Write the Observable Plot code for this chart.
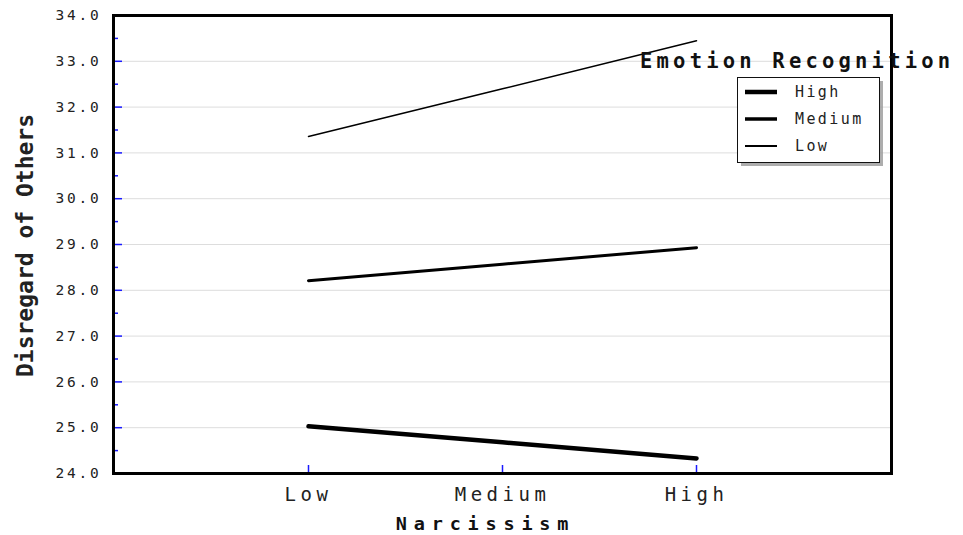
<!DOCTYPE html>
<html><head><meta charset="utf-8">
<script src="https://cdn.jsdelivr.net/npm/d3@7"></script>
<script src="https://cdn.jsdelivr.net/npm/@observablehq/plot@0.6"></script>
<style>
body{margin:0;background:#fff}
#chart{position:relative;width:963px;height:535px}
g[aria-label="y-axis tick label"] text{letter-spacing:2.8px}
g[aria-label="x-axis tick label"] text{letter-spacing:4.5px}
</style>
</head><body><div id="chart"></div>
<script>
// Categories
const narcissism = ["Low", "Medium", "High"];
const emotionLevels = ["High", "Medium", "Low"];
// Series values (Disregard of Others)
const highER = [25.03, 24.68, 24.33];
const mediumER = [28.21, 28.57, 28.93];
const lowER = [31.36, 32.40, 33.45];
// Tick values
const majorTicks = [24, 25, 26, 27, 28, 29, 30, 31, 32, 33, 34];
const minorTicks = [24.5, 25.5, 26.5, 27.5, 28.5, 29.5, 30.5, 31.5, 32.5, 33.5];
const gridTicks = [25, 26, 27, 28, 29, 30, 31, 32, 33];
const xTitle = "Narcissism";
const yTitle = "Disregard of Others";
const legendTitle = "Emotion Recognition";

const seriesValues = {High: highER, Medium: mediumER, Low: lowER};
const widthOf = {High: 4.5, Medium: 3, Low: 1.5};
const legendWidthOf = {High: 4.5, Medium: 3.5, Low: 2};
const rows = emotionLevels.flatMap(er => narcissism.map((n, i) => ({er, narc: n, value: seriesValues[er][i]})));

const font = "DejaVu Sans Mono";
const plot = Plot.plot({
  width: 963, height: 535,
  marginLeft: 113, marginRight: 72, marginTop: 15, marginBottom: 62,
  style: {fontFamily: font, background: "white", color: "#222"},
  x: {type: "point", domain: narcissism, padding: 1},
  y: {domain: [24, 34]},
  marks: [
    Plot.ruleY(gridTicks, {stroke: "#dddddd", strokeWidth: 1}),
    ...emotionLevels.map(er => Plot.line(rows.filter(d => d.er === er), {x: "narc", y: "value", stroke: "black", strokeWidth: widthOf[er]})),
    Plot.axisY({ticks: minorTicks, tickSize: -5, stroke: "#1a1aff", strokeWidth: 1.5, tickFormat: () => "", label: null}),
    Plot.axisY({ticks: majorTicks, tickSize: -9, stroke: "#1a1aff", strokeWidth: 1.5, tickFormat: () => "", label: null}),
    Plot.axisY({ticks: majorTicks, tickSize: 0, tickPadding: 12, tickFormat: d => d.toFixed(1), fontSize: 14.5, fill: "#222", label: null}),
    Plot.axisX({tickSize: -8, stroke: "#1a1aff", strokeWidth: 1.5, tickFormat: () => "", label: null}),
    Plot.axisX({tickSize: 0, tickPadding: 14, fontSize: 19, fill: "#222", label: null}),
    Plot.text([yTitle], {frameAnchor: "left", textAnchor: "middle", lineAnchor: "middle", rotate: -90, dx: -88, dy: 1, fontSize: 23, fontWeight: "bold", fill: "#222"}),
    Plot.text([xTitle], {frameAnchor: "bottom", textAnchor: "middle", lineAnchor: "middle", dy: 51, dx: -17, fontSize: 18.5, fontWeight: "bold", fill: "#111"}),
    Plot.frame({stroke: "black", strokeWidth: 3})
  ]
});
document.getElementById("chart").appendChild(plot);

const svg = d3.select(plot);
svg.selectAll("text").filter(function() { return this.textContent === xTitle; }).style("letter-spacing", "6.8px");

// Legend
svg.append("text").attr("x", 640).attr("y", 62).attr("dominant-baseline", "middle").attr("text-anchor", "start")
  .attr("font-family", font).attr("font-size", 20.5).attr("font-weight", "bold")
  .attr("letter-spacing", "4.2px").attr("fill", "#111").text(legendTitle);
const lg = svg.append("g");
lg.append("rect").attr("x", 741).attr("y", 81).attr("width", 142).attr("height", 85).attr("fill", "#999").attr("opacity", 0.8);
lg.append("rect").attr("x", 737.5).attr("y", 77.5).attr("width", 142).attr("height", 85).attr("fill", "white").attr("stroke", "#111");
emotionLevels.forEach((er, i) => {
  const y = 92 + i * 27;
  lg.append("line").attr("x1", 745).attr("x2", 777).attr("y1", y).attr("y2", y).attr("stroke", "black").attr("stroke-width", legendWidthOf[er]);
  lg.append("text").attr("x", 795).attr("y", y).attr("dominant-baseline", "middle").attr("text-anchor", "start")
    .attr("font-family", font).attr("font-size", 15).attr("letter-spacing", "2.4px").attr("fill", "#222").text(er);
});
</script>
</body></html>
